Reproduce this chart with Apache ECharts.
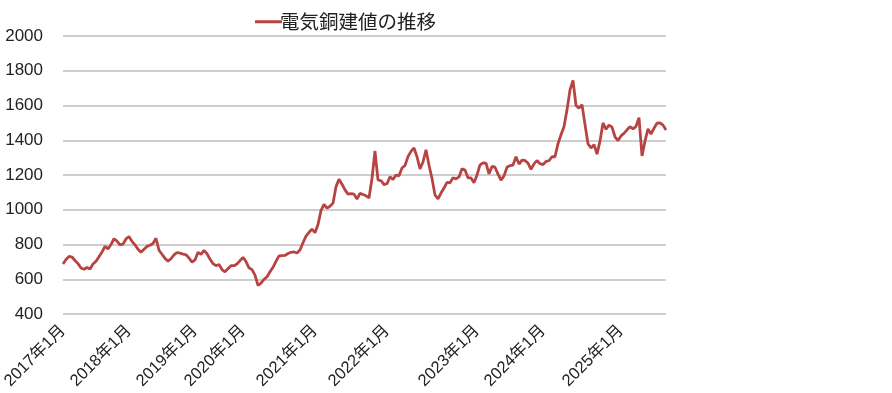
<!DOCTYPE html>
<html>
<head>
<meta charset="utf-8">
<script src="https://cdn.jsdelivr.net/npm/echarts@6/dist/echarts.min.js"></script>
<style>
html,body{margin:0;padding:0;background:#fff;}
#chart{width:892px;height:393px;}
</style>
</head>
<body>
<div id="chart"></div>
<script>
// Series name
const seriesName = '電気銅建値の推移';

// Price values (roughly weekly-spaced samples)
const values = [
  688, 714, 731, 728, 708, 690, 665, 658, 668, 659,
  688, 704, 730, 757, 789, 775, 800, 833, 819, 798,
  802, 832, 846, 818, 798, 773, 755, 772, 789, 796,
  806, 836, 767, 744, 720, 704, 718, 740, 754, 750,
  745, 741, 722, 698, 711, 755, 743, 766, 747, 716,
  690, 678, 685, 656, 643, 661, 678, 678, 688, 707,
  726, 702, 666, 655, 624, 565, 578, 599, 614, 643,
  669, 703, 735, 736, 737, 748, 755, 757, 751, 768,
  810, 848, 870, 888, 868, 915, 995, 1031, 1009, 1020,
  1038, 1133, 1175, 1147, 1114, 1090, 1093, 1090, 1062, 1094,
  1088, 1080, 1068, 1180, 1338, 1172, 1167, 1145, 1150, 1190,
  1174, 1200, 1195, 1240, 1255, 1306, 1336, 1356, 1305, 1235,
  1275, 1345, 1256, 1180, 1085, 1062, 1096, 1125, 1158, 1155,
  1184, 1178, 1189, 1236, 1229, 1184, 1183, 1155, 1200, 1258,
  1269, 1268, 1207, 1249, 1245, 1205, 1170, 1195, 1245, 1254,
  1257, 1305, 1263, 1286, 1284, 1268, 1232, 1264, 1283, 1265,
  1260, 1278, 1282, 1305, 1305, 1380, 1432, 1478, 1575, 1690,
  1745, 1600, 1585, 1605, 1490, 1380, 1355, 1375, 1320, 1395,
  1500, 1463, 1487, 1475, 1420, 1398, 1425, 1440, 1460, 1478,
  1465, 1480, 1530, 1310, 1395, 1465, 1436, 1469, 1498, 1500,
  1487, 1459
];

// Tick labels and the sample index where each falls
const tickLabels = ['2017年1月','2018年1月','2019年1月','2020年1月','2021年1月','2022年1月','2023年1月','2024年1月','2025年1月'];
const tickIndex  = [0, 22, 44, 60, 84, 108, 138, 160, 186];

// Y axis
const yMin = 400, yMax = 2000, yStep = 200;

const categories = values.map((v, i) => String(i));
const labelMap = {};
tickIndex.forEach((idx, k) => { labelMap[idx] = tickLabels[k]; });

const chart = echarts.init(document.getElementById('chart'), null, {renderer: 'canvas'});
const lineColor = '#B84343';
chart.setOption({
  animation: false,
  backgroundColor: '#ffffff',
  legend: {
    show: true,
    left: 250,
    top: 7,
    icon: 'rect',
    itemWidth: 27,
    itemHeight: 3,
    data: [{name: seriesName, itemStyle: {color: lineColor}}],
    textStyle: {
      fontFamily: '"Noto Sans CJK JP", sans-serif',
      fontSize: 19.5,
      color: '#222',
      padding: [0, 0, 0, -7]
    }
  },
  grid: {left: 63, right: 226, top: 36, bottom: 79, containLabel: false, outerBoundsMode: 'none'},
  xAxis: {
    type: 'category',
    boundaryGap: false,
    data: categories,
    axisLine: {show: false},
    axisTick: {show: false},
    splitLine: {show: false},
    axisLabel: {
      rotate: 45,
      margin: 14,
      interval: (idx) => labelMap[idx] !== undefined,
      formatter: (val, idx) => labelMap[idx] || '',
      fontFamily: '"Liberation Sans", "Noto Sans CJK JP", sans-serif',
      fontSize: 16.5,
      color: '#222'
    }
  },
  yAxis: {
    type: 'value',
    min: yMin,
    max: yMax,
    interval: yStep,
    axisLine: {show: false},
    axisTick: {show: false},
    splitLine: {lineStyle: {color: '#BEBEBE', width: 1.5}},
    axisLabel: {
      margin: 20,
      formatter: (v) => String(v),
      fontFamily: '"Liberation Sans", sans-serif',
      fontSize: 17,
      color: '#222'
    }
  },
  series: [{
    name: seriesName,
    type: 'line',
    data: values,
    showSymbol: false,
    symbol: 'none',
    lineStyle: {color: lineColor, width: 2.8},
    itemStyle: {color: lineColor}
  }]
});
</script>
</body>
</html>
